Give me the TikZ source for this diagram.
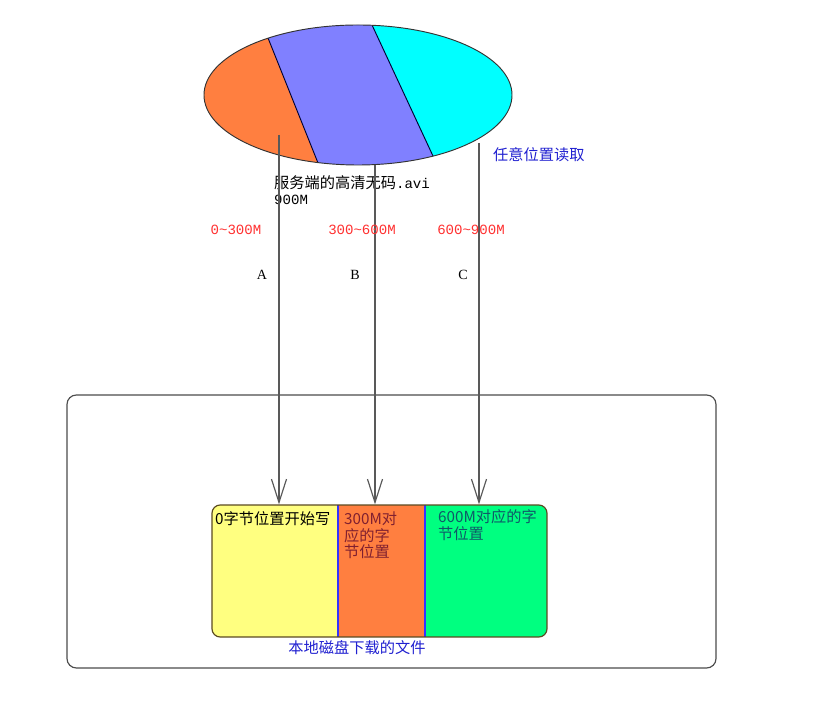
\documentclass[tikz,border=0pt]{standalone}
\usepackage{fontspec}
\setmainfont{Noto Sans CJK SC}
\newfontfamily\mono{Liberation Mono}
\newfontfamily\letter{Liberation Serif}
\usetikzlibrary{arrows.meta,shapes.geometric}
\definecolor{segorange}{HTML}{FF7F40}
\definecolor{segviolet}{HTML}{8080FF}
\definecolor{segcyan}{HTML}{00FFFF}
\definecolor{segyellow}{HTML}{FFFF80}
\definecolor{seggreen}{HTML}{00FF80}
\definecolor{boxedge}{HTML}{5A4A20}
\definecolor{rangered}{HTML}{FF3030}
\definecolor{notblue}{HTML}{2020D0}
\definecolor{cellred}{HTML}{802030}
\definecolor{cellteal}{HTML}{105868}
\tikzset{
  fetch/.style={draw=black!65, line width=1pt,
    -{Straight Barb[length=7mm,width=4.5mm,line width=1pt]}},
  rangelbl/.style={text=rangered, font=\mono\fontsize{12}{13}\selectfont},
  partlbl/.style={font=\letter\fontsize{12}{13}\selectfont},
  celltxt/.style={anchor=north west, inner sep=0, align=left,
    font=\fontsize{13}{14.5}\selectfont},
}
\begin{document}
\begin{tikzpicture}[x=0.03cm,y=0.03cm]
    \useasboundingbox (0,0) rectangle (827,702);
    % --- file sul server: ellisse in tre parti ---
    \begin{scope}
        \clip (358,607) ellipse [x radius=154, y radius=70];
        \fill[segorange] (180,700) -- (253.6,700) -- (325.6,520) -- (180,520) -- cycle;
        \fill[segviolet] (253.6,700) -- (361.3,700) -- (445.1,520) -- (325.6,520) -- cycle;
        \fill[segcyan] (361.3,700) -- (540,700) -- (540,520) -- (445.1,520) -- cycle;
        \draw[black!80!blue, line width=0.8pt] (253.6,700) -- (325.6,520)  (361.3,700) -- (445.1,520);
    \end{scope}
    \node[ellipse, draw=black!80, line width=0.8pt, inner sep=0,
          minimum width=9.24cm, minimum height=4.2cm] (file) at (358,607) {};
    \node[anchor=north west, inner sep=0, align=left,
          font=\fontsize{13}{14}\selectfont] (fname) at (274,527)
          {服务端的高清无码{\mono\fontsize{12}{13}\selectfont.avi}\\{\mono\fontsize{12}{13}\selectfont 900M}};
    \node[anchor=west, inner sep=0, text=notblue, font=\fontsize{13}{14}\selectfont] (anypos) at (493,547) {任意位置读取};
    % --- punti di lettura ---
    \coordinate (srcA) at (279,567);
    \coordinate (srcB) at (375,537);
    \coordinate (srcC) at (479,559);
    % --- disco locale ---
    \node[draw=black!70, line width=1pt, rounded corners=8pt, inner sep=0,
          minimum width=19.47cm, minimum height=8.19cm] (disk) at (391.5,170.5) {};
    \begin{scope}
        \clip[rounded corners=7pt] (212,65) rectangle (547,197);
        \fill[segyellow] (212,65) rectangle (338,197);
        \fill[segorange] (338,65) rectangle (425,197);
        \fill[seggreen] (425,65) rectangle (547,197);
    \end{scope}
    \draw[blue!80, line width=1pt] (338,65) -- (338,197)  (425,65) -- (425,197);
    \node[draw=boxedge, line width=1pt, rounded corners=7pt, inner sep=0,
          minimum width=10.05cm, minimum height=3.96cm] (local) at (379.5,131) {};
    \node[celltxt] (cellA) at (215,191) {0字节位置开始写};
    \node[celltxt, text=cellred] (cellB) at (344,191) {300M对\\应的字\\节位置};
    \node[celltxt, text=cellteal] (cellC) at (438,193) {600M对应的字\\节位置};
    \node[text=notblue, font=\fontsize{13}{14}\selectfont] (localname) at (357,54) {本地磁盘下载的文件};
    % --- frecce di lettura ---
    \draw[fetch] (srcA) -- (srcA |- local.north);
    \draw[fetch] (srcB) -- (srcB |- local.north);
    \draw[fetch] (srcC) -- (srcC |- local.north);
    % --- intervalli ---
    \node[rangelbl] (rngA) at (236,472) {0\textasciitilde300M};
    \node[rangelbl] (rngB) at (362,472) {300\textasciitilde600M};
    \node[rangelbl] (rngC) at (471,472) {600\textasciitilde900M};
    \node[partlbl] (partA) at (262,427) {A};
    \node[partlbl] (partB) at (355,427) {B};
    \node[partlbl] (partC) at (463,427) {C};
\end{tikzpicture}
\end{document}
